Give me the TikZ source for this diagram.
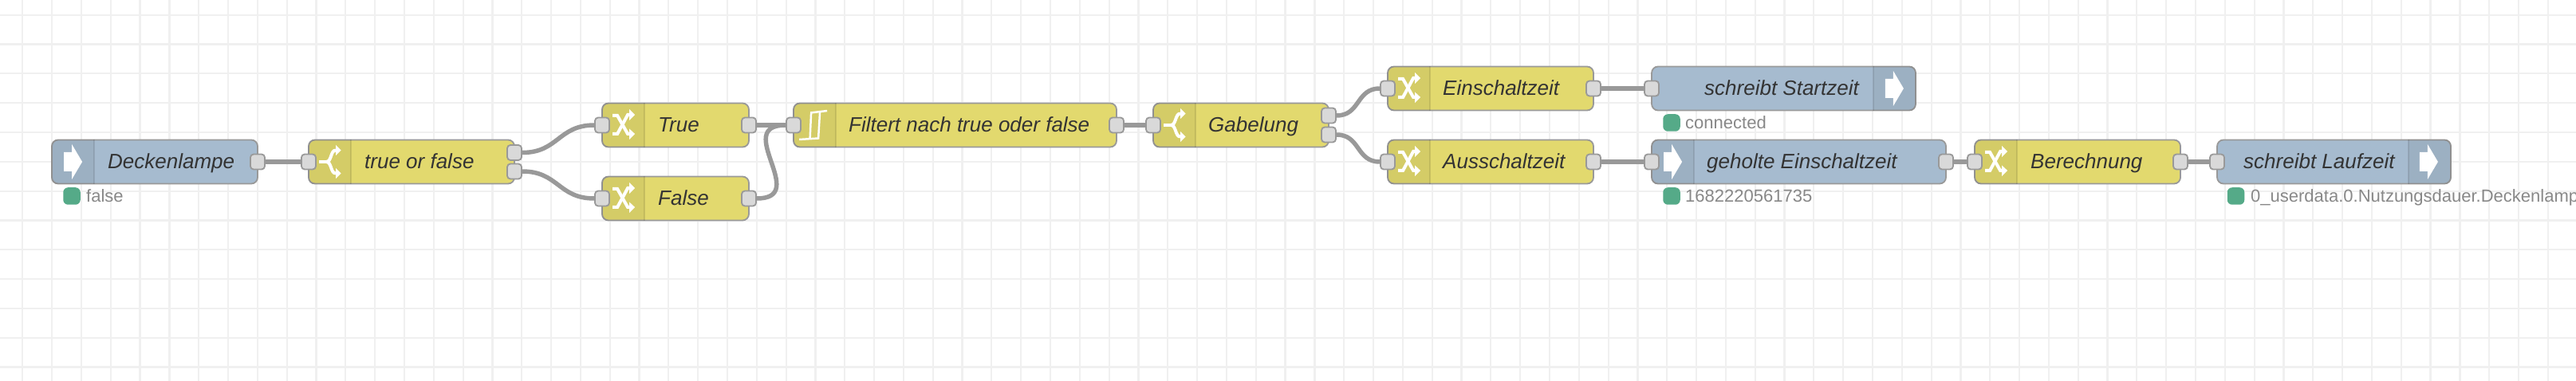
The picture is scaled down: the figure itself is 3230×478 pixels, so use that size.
\documentclass[tikz,border=0pt]{standalone}
\usepackage{fontspec}
\setmainfont{Liberation Sans}
\usetikzlibrary{calc, positioning}
\definecolor{flowYellow}{RGB}{226,217,110}
\definecolor{flowBlue}  {RGB}{166,187,207}
\definecolor{flowEdge}  {RGB}{153,153,153}
\definecolor{flowPort}  {RGB}{217,217,217}
\definecolor{flowGrid}  {RGB}{240,240,240}
\definecolor{flowOk}    {RGB}{ 85,170,136}
\definecolor{flowText}  {RGB}{ 51, 51, 51}
\definecolor{flowStat}  {RGB}{136,136,136}
%% icon band on one end of a flow node
\newcommand{\bandleft}[1]{%
  \begin{scope}
    \clip[rounded corners=8pt] (#1.north west) rectangle (#1.south east);
    \fill[bandtint] (#1.north west) rectangle ($(#1.south west)+(54,0)$);
    \draw[bandline] ($(#1.north west)+(54,0)$) -- ($(#1.south west)+(54,0)$);
  \end{scope}}
\newcommand{\bandright}[1]{%
  \begin{scope}
    \clip[rounded corners=8pt] (#1.north west) rectangle (#1.south east);
    \fill[bandtint] (#1.north east) rectangle ($(#1.south east)+(-54,0)$);
    \draw[bandline] ($(#1.north east)+(-54,0)$) -- ($(#1.south east)+(-54,0)$);
  \end{scope}}
%% white icons
\newcommand{\arrowicon}[2]{%
  \fill[white, shift={($(#1)+(#2,0)$)}]
    (0,-12) -- (10,-12) -- (10,-22) -- (23,0) -- (10,22) -- (10,12) -- (0,12) -- cycle;}
\newcommand{\switchicon}[1]{%
  \begin{scope}[shift={($(#1.west)+(14,0)$)}]
    \draw[iconline] (0,0) -- (9,0);
    \draw[iconline] (21,-14.5) .. controls (14,-14.5) and (16,0) .. (9,0)
                    .. controls (16,0) and (14,14.5) .. (21,14.5);
    \fill[white] (21,-21) -- (27.5,-14.5) -- (21,-8) -- cycle;
    \fill[white] (21,8) -- (27.5,14.5) -- (21,21) -- cycle;
  \end{scope}}
\newcommand{\changeicon}[1]{%
  \begin{scope}[shift={($(#1.west)+(14,0)$)}]
    \draw[iconline] (0,-12) -- (6,-12) -- (19,11) -- (22,11);
    \draw[iconline] (0,11) -- (6,11) -- (19,-13) -- (22,-13);
    \fill[white] (21,-20) -- (28,-13) -- (21,-6) -- cycle;
    \fill[white] (21,4.5) -- (28,11) -- (21,18) -- cycle;
  \end{scope}}
\newcommand{\filtericon}[1]{%
  \begin{scope}[shift={(#1.west)}]
    \draw[iconthin] (8,18) -- (32,16.5) -- (34,-17);
    \draw[iconthin] (21.5,17) -- (23,-15.5);
    \draw[iconthin] (22,-15.5) -- (43,-18);
  \end{scope}}

\begin{document}
\begin{tikzpicture}[
  x=1pt, y=-1pt,
  flowbox/.style={rectangle, rounded corners=8pt, minimum height=55pt,
    inner sep=0pt, line width=1.8pt, draw=flowEdge},
  fnc/.style={flowbox, fill=flowYellow},
  iox/.style={flowbox, fill=flowBlue},
  port/.style={rectangle, rounded corners=4pt, minimum width=18pt, minimum height=19pt,
    inner sep=0pt, line width=1.8pt, draw=flowEdge, fill=flowPort},
  lbl/.style={anchor=base west, inner sep=0pt, text=flowText,
    font=\fontsize{26}{30}\selectfont\itshape},
  dot/.style={rectangle, rounded corners=6pt, minimum size=21.5pt, inner sep=0pt, fill=flowOk},
  stat/.style={anchor=base west, inner sep=0pt, text=flowStat,
    font=\fontsize{22}{26}\selectfont},
  wire/.style={draw=flowEdge, line width=5.5pt},
  bandtint/.style={fill=black, fill opacity=0.06},
  bandline/.style={draw=black, draw opacity=0.1, line width=1.5pt},
  iconline/.style={draw=white, line width=4pt},
  iconthin/.style={draw=white, line width=2.5pt},
  gridline/.style={draw=flowGrid, line width=2.2pt},
]
\useasboundingbox (0,0) rectangle (3230,478);
\fill[white] (0,0) rectangle (3230,478);

%% ── Canvas grid ─────────────────────────────────────────────────────────────
\foreach \gx in {0,...,86} {\draw[gridline] ({28.3+\gx*36.82},0) -- ++(0,478);}
\foreach \gy in {0,...,12} {\draw[gridline] (0,{18.7+\gy*36.82}) -- ++(3230,0);}

%% ── Flow nodes ──────────────────────────────────────────────────────────────
\node[iox, minimum width=258pt] (lampe)    at (194,    203) {};
\node[fnc, minimum width=258pt] (tof)      at (516,    203) {};
\node[fnc, minimum width=184pt] (wahr)     at (847,    157) {};
\node[fnc, minimum width=184pt] (falsch)   at (847,    249) {};
\node[fnc, minimum width=405pt] (filter)   at (1197.5, 157) {};
\node[fnc, minimum width=220pt] (gabel)    at (1556,   157) {};
\node[fnc, minimum width=258pt] (ein)      at (1869,   111) {};
\node[fnc, minimum width=258pt] (aus)      at (1869,   203) {};
\node[iox, minimum width=331pt] (start)    at (2236.5, 111) {};
\node[iox, minimum width=369pt] (geholt)   at (2255.5, 203) {};
\node[fnc, minimum width=258pt] (rechnung) at (2605,   203) {};
\node[iox, minimum width=293pt] (laufzeit) at (2926.5, 203) {};

%% icon bands
\bandleft{lampe}
\bandleft{tof}
\bandleft{wahr}
\bandleft{falsch}
\bandleft{filter}
\bandleft{gabel}
\bandleft{ein}
\bandleft{aus}
\bandright{start}
\bandleft{geholt}
\bandleft{rechnung}
\bandright{laufzeit}

%% icons
\arrowicon{lampe.west}{16}
\switchicon{tof}
\changeicon{wahr}
\changeicon{falsch}
\filtericon{filter}
\switchicon{gabel}
\changeicon{ein}
\changeicon{aus}
\arrowicon{start.east}{-39}
\arrowicon{geholt.west}{16}
\changeicon{rechnung}
\arrowicon{laufzeit.east}{-40}

%% ── Labels ──────────────────────────────────────────────────────────────────
\node[lbl] (lampeT)    at (135,  212) {Deckenlampe};
\node[lbl] (tofT)      at (457,  212) {true or false};
\node[lbl] (wahrT)     at (825,  166) {True};
\node[lbl] (falschT)   at (825,  258) {False};
\node[lbl] (filterT)   at (1064, 166) {Filtert nach true oder false};
\node[lbl] (gabelT)    at (1515, 166) {Gabelung};
\node[lbl] (einT)      at (1809, 120) {Einschaltzeit};
\node[lbl] (ausT)      at (1809, 212) {Ausschaltzeit};
\node[lbl] (startT)    at (2137, 120) {schreibt Startzeit};
\node[lbl] (geholtT)   at (2140, 212) {geholte Einschaltzeit};
\node[lbl] (rechnungT) at (2546, 212) {Berechnung};
\node[lbl] (laufzeitT) at (2813, 212) {schreibt Laufzeit};

%% ── Status lines ────────────────────────────────────────────────────────────
\node[dot]  (lampeD)    at (90,     246) {};
\node[stat] (lampeS)    at (108,    254) {false};
\node[dot]  (startD)    at (2096,   154) {};
\node[stat] (startS)    at (2113,   162) {connected};
\node[dot]  (geholtD)   at (2096,   246) {};
\node[stat] (geholtS)   at (2113,   254) {1682220561735};
\node[dot]  (laufzeitD) at (2803.5, 246) {};
\node[stat] (laufzeitS) at (2822,   254) {0\_userdata.0.Nutzungsdauer.Deckenlamp};

%% ── Ports ───────────────────────────────────────────────────────────────────
\node[port] (lampeO)    at (323,  203) {};
\node[port] (tofI)      at (387,  203) {};
\node[port] (tofA)      at (645,  191.5) {};
\node[port] (tofB)      at (645,  215) {};
\node[port] (wahrI)     at (755,  157) {};
\node[port] (wahrO)     at (939,  157) {};
\node[port] (falschI)   at (755,  249) {};
\node[port] (falschO)   at (939,  249) {};
\node[port] (filterI)   at (995,  157) {};
\node[port] (filterO)   at (1400, 157) {};
\node[port] (gabelI)    at (1446, 157) {};
\node[port] (gabelA)    at (1666, 145) {};
\node[port] (gabelB)    at (1666, 169) {};
\node[port] (einI)      at (1740, 111) {};
\node[port] (einO)      at (1998, 111) {};
\node[port] (ausI)      at (1740, 203) {};
\node[port] (ausO)      at (1998, 203) {};
\node[port] (startI)    at (2071, 111) {};
\node[port] (geholtI)   at (2071, 203) {};
\node[port] (geholtO)   at (2440, 203) {};
\node[port] (rechnungI) at (2476, 203) {};
\node[port] (rechnungO) at (2734, 203) {};
\node[port] (laufzeitI) at (2780, 203) {};

%% ── Wires ───────────────────────────────────────────────────────────────────
\draw[wire] (lampeO) -- (tofI);
\draw[wire] (tofA.east) to[out=0, in=180, looseness=1.2] (wahrI.west);
\draw[wire] (tofB.east) to[out=0, in=180, looseness=1.2] (falschI.west);
\draw[wire] (wahrO) -- (filterI);
\draw[wire] (falschO.east) to[out=0, in=180, looseness=1.75] (filterI.west);
\draw[wire] (filterO) -- (gabelI);
\draw[wire] (gabelA.east) to[out=0, in=180, looseness=1.2] (einI.west);
\draw[wire] (gabelB.east) to[out=0, in=180, looseness=1.2] (ausI.west);
\draw[wire] (einO) -- (startI);
\draw[wire] (ausO) -- (geholtI);
\draw[wire] (geholtO) -- (rechnungI);
\draw[wire] (rechnungO) -- (laufzeitI);

\end{tikzpicture}
\end{document}
